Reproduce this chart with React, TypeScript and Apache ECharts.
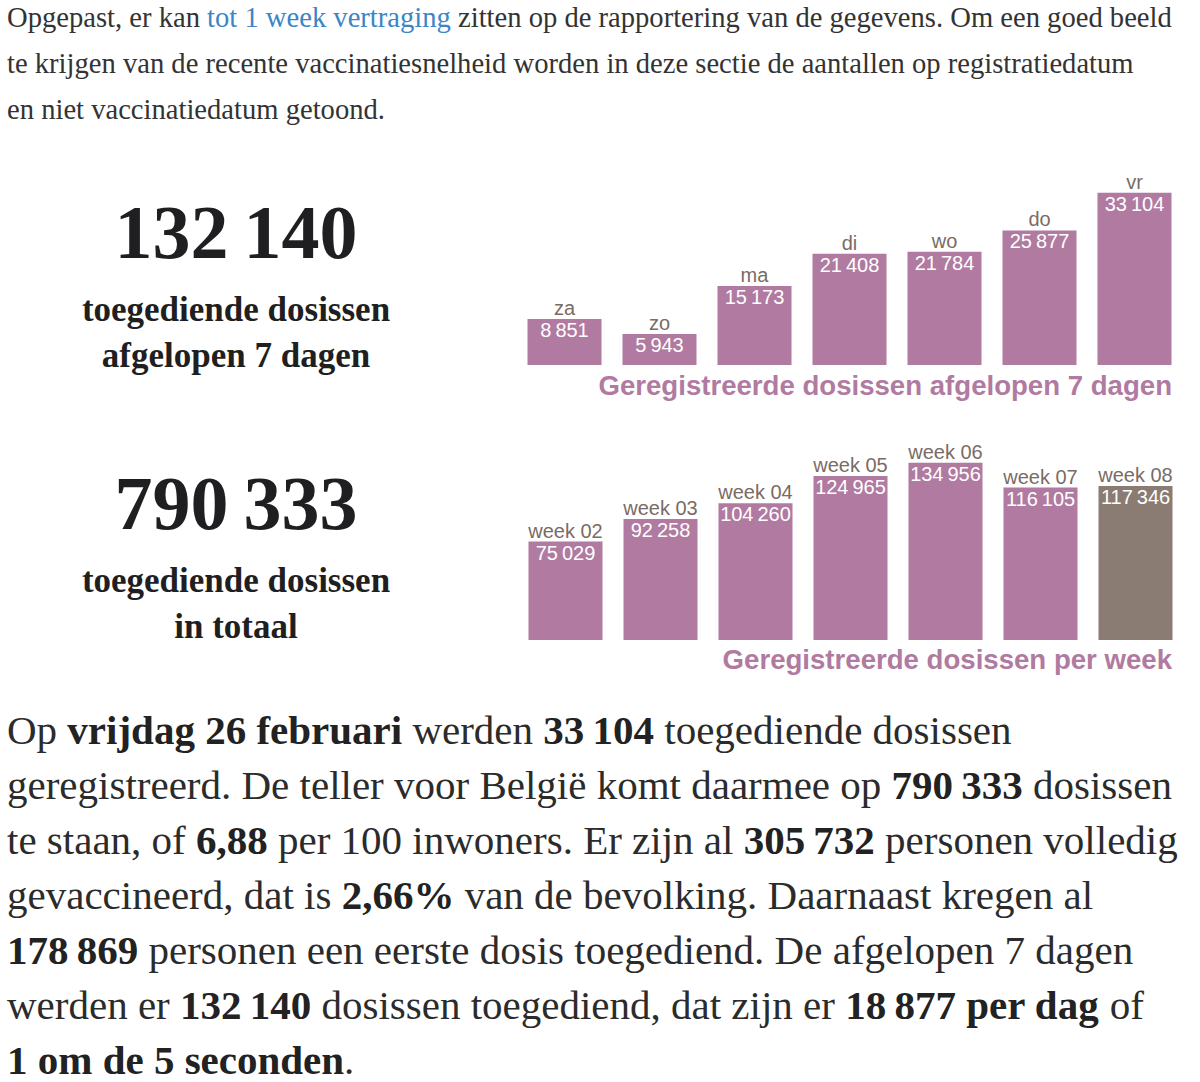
import React, { useEffect, useRef } from "react";
import * as echarts from "echarts";

// ---- data ----
const dayCategories = ["za", "zo", "ma", "di", "wo", "do", "vr"];
const dayValues = [8851, 5943, 15173, 21408, 21784, 25877, 33104];
const weekCategories = ["week 02", "week 03", "week 04", "week 05", "week 06", "week 07", "week 08"];
const weekValues = [75029, 92258, 104260, 124965, 134956, 116105, 117346];
const highlightedWeek = "week 08";

const totalLast7Days = 132140;
const totalAllDoses = 790333;

const dayChartTitle = "Geregistreerde dosissen afgelopen 7 dagen";
const weekChartTitle = "Geregistreerde dosissen per week";
const last7Caption = ["toegediende dosissen", "afgelopen 7 dagen"];
const totalCaption = ["toegediende dosissen", "in totaal"];

const introLines = [
  "Opgepast, er kan {a|tot 1 week vertraging} zitten op de rapportering van de gegevens. Om een goed beeld",
  "te krijgen van de recente vaccinatiesnelheid worden in deze sectie de aantallen op registratiedatum",
  "en niet vaccinatiedatum getoond.",
];

const summaryLines = [
  "Op {b|vrijdag 26 februari} werden {b|33\u2009104} toegediende dosissen",
  "geregistreerd. De teller voor België komt daarmee op {b|790\u2009333} dosissen",
  "te staan, of {b|6,88} per 100 inwoners. Er zijn al {b|305\u2009732} personen volledig",
  "gevaccineerd, dat is {b|2,66%} van de bevolking. Daarnaast kregen al",
  "{b|178\u2009869} personen een eerste dosis toegediend. De afgelopen 7 dagen",
  "werden er {b|132\u2009140} dosissen toegediend, dat zijn er {b|18\u2009877 per dag} of",
  "{b|1 om de 5 seconden}.",
];

const fmt = (n: number) => String(n).replace(/\B(?=(\d{3})+(?!\d))/g, "\u2009");

const PURPLE = "#b07aa1";
const TAUPE = "#8a7b73";
const LABEL_GREY = "#7a6b65";
const SERIF = "'Liberation Serif', serif";
const SANS = "'Liberation Sans', Arial, sans-serif";

export default function App() {
  const ref = useRef<HTMLDivElement>(null);

  useEffect(() => {
    document.body.style.margin = "0";
    if (!ref.current) return;
    const chart = echarts.init(ref.current, null, { renderer: "svg" });

    const barLabel = (names: string[]) => ({
      show: true,
      position: "insideTop",
      distance: 0,
      offset: [0, -22],
      formatter: (p: any) => `{n|${names[p.dataIndex]}}\n{v|${fmt(p.value)}}`,
      rich: {
        n: { fontFamily: SANS, fontSize: 20, color: LABEL_GREY, lineHeight: 22, align: "center" },
        v: { fontFamily: SANS, fontSize: 20, color: "#ffffff", lineHeight: 22, align: "center" },
      },
    });

    const graphics: any[] = [];
    introLines.forEach((line, i) => {
      graphics.push({
        type: "text",
        x: 7,
        y: 17 + i * 46,
        style: {
          text: line,
          font: `28.6px ${SERIF}`,
          fill: "#333333",
          verticalAlign: "middle",
          rich: { a: { font: `28.6px ${SERIF}`, fill: "#3a86c6", color: "#3a86c6" } },
        },
      });
    });
    summaryLines.forEach((line, i) => {
      graphics.push({
        type: "text",
        x: 7,
        y: 730 + i * 55,
        style: {
          text: line,
          font: `41px ${SERIF}`,
          fill: "#2b2b2b",
          verticalAlign: "middle",
          rich: { b: { font: `bold 41px ${SERIF}`, fill: "#222222", color: "#222222" } },
        },
      });
    });
    const bigBlock = (value: number, caption: string[], y: number) => {
      graphics.push({
        type: "text",
        x: 236,
        y,
        style: {
          text: fmt(value),
          font: `bold 76px ${SERIF}`,
          fill: "#1f1f22",
          align: "center",
          verticalAlign: "middle",
        },
      });
      caption.forEach((c, i) => {
        graphics.push({
          type: "text",
          x: 236,
          y: y + 77 + i * 46,
          style: {
            text: c,
            font: `bold 35px ${SERIF}`,
            fill: "#1f1f22",
            align: "center",
            verticalAlign: "middle",
          },
        });
      });
    };
    bigBlock(totalLast7Days, last7Caption, 232);
    bigBlock(totalAllDoses, totalCaption, 503);

    graphics.push({
      type: "text",
      x: 1172,
      y: 385,
      style: { text: dayChartTitle, font: `bold 27.6px ${SANS}`, fill: PURPLE, align: "right", verticalAlign: "middle" },
    });
    graphics.push({
      type: "text",
      x: 1172,
      y: 659,
      style: { text: weekChartTitle, font: `bold 27.6px ${SANS}`, fill: PURPLE, align: "right", verticalAlign: "middle" },
    });

    chart.setOption({
      animation: false,
      grid: [
        { left: 517, top: 157, width: 665, height: 208 },
        { left: 518, top: 430, width: 665, height: 210 },
      ],
      xAxis: [
        { type: "category", gridIndex: 0, data: dayCategories, show: false },
        { type: "category", gridIndex: 1, data: weekCategories, show: false },
      ],
      yAxis: [
        { type: "value", gridIndex: 0, min: 0, max: 40000, show: false },
        { type: "value", gridIndex: 1, min: 0, max: 160000, show: false },
      ],
      series: [
        {
          type: "bar",
          xAxisIndex: 0,
          yAxisIndex: 0,
          data: dayValues,
          barWidth: 74,
          itemStyle: { color: PURPLE },
          label: barLabel(dayCategories),
        },
        {
          type: "bar",
          xAxisIndex: 1,
          yAxisIndex: 1,
          data: weekValues.map((v, i) => ({
            value: v,
            itemStyle: { color: weekCategories[i] === highlightedWeek ? TAUPE : PURPLE },
          })),
          barWidth: 74,
          label: barLabel(weekCategories),
        },
      ],
      graphic: graphics,
    });

    return () => chart.dispose();
  }, []);

  return <div ref={ref} style={{ width: 1200, height: 1082 }} />;
}
